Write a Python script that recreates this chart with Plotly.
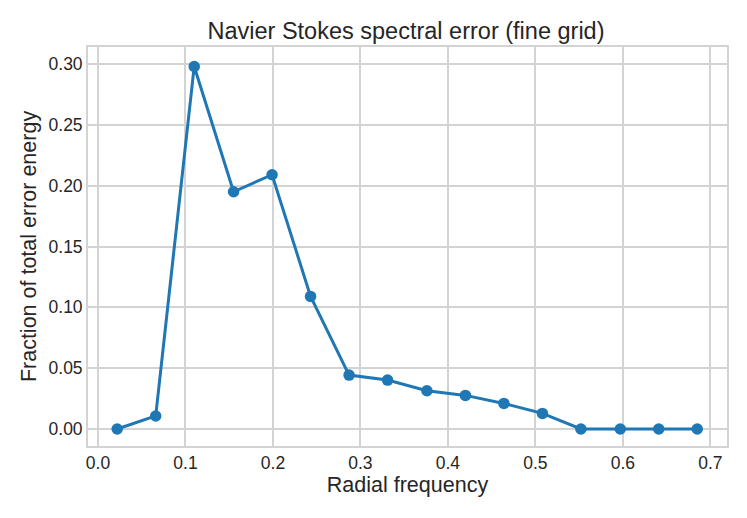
import plotly.graph_objects as go

freq = [0.022, 0.066, 0.110, 0.155, 0.199, 0.243, 0.287, 0.331, 0.376, 0.420, 0.464, 0.508, 0.552, 0.597, 0.641, 0.685]
frac = [0.0, 0.0107, 0.298, 0.195, 0.209, 0.109, 0.0443, 0.0402, 0.0314, 0.0276, 0.021, 0.0128, 0.0, 0.0, 0.0, 0.0]

x_ticks = [0.0, 0.1, 0.2, 0.3, 0.4, 0.5, 0.6, 0.7]
x_labels = ["0.0", "0.1", "0.2", "0.3", "0.4", "0.5", "0.6", "0.7"]
y_ticks = [0.0, 0.05, 0.10, 0.15, 0.20, 0.25, 0.30]
y_labels = ["0.00", "0.05", "0.10", "0.15", "0.20", "0.25", "0.30"]

fig = go.Figure()
fig.add_trace(go.Scatter(
    x=freq, y=frac, mode="lines+markers",
    line=dict(color="#1f77b4", width=3),
    marker=dict(color="#1f77b4", size=11.5),
    showlegend=False,
))

font = "Liberation Sans, Arial, sans-serif"
fig.update_layout(
    width=747, height=518,
    margin=dict(l=80, r=28, t=39, b=80),
    paper_bgcolor="white", plot_bgcolor="white",
    font=dict(family=font, color="#262626"),
    title=dict(text="Navier Stokes spectral error (fine grid)", x=(406 - 8) / 747, xanchor="center",
               y=1 - 23/518, yanchor="middle", font=dict(size=23.5, color="#262626")),
    xaxis=dict(range=[-0.0114, 0.719], tickvals=x_ticks, ticktext=x_labels,
               showgrid=True, gridcolor="#d3d3d3", gridwidth=1.6,
               showline=True, linecolor="#d3d3d3", linewidth=1.8, mirror=True,
               zeroline=False, ticks="", tickfont=dict(size=17.5), automargin=False,
               title=dict(text="Radial frequency", font=dict(size=21.5), standoff=5)),
    yaxis=dict(range=[-0.014, 0.314], tickvals=y_ticks, ticktext=y_labels,
               showgrid=True, gridcolor="#d3d3d3", gridwidth=1.6,
               showline=True, linecolor="#d3d3d3", linewidth=1.8, mirror=True,
               zeroline=False, ticks="", tickfont=dict(size=17.5), automargin=False,
               title=dict(text="Fraction of total error energy", font=dict(size=21.5), standoff=6)),
)

fig.write_html("out.html")
